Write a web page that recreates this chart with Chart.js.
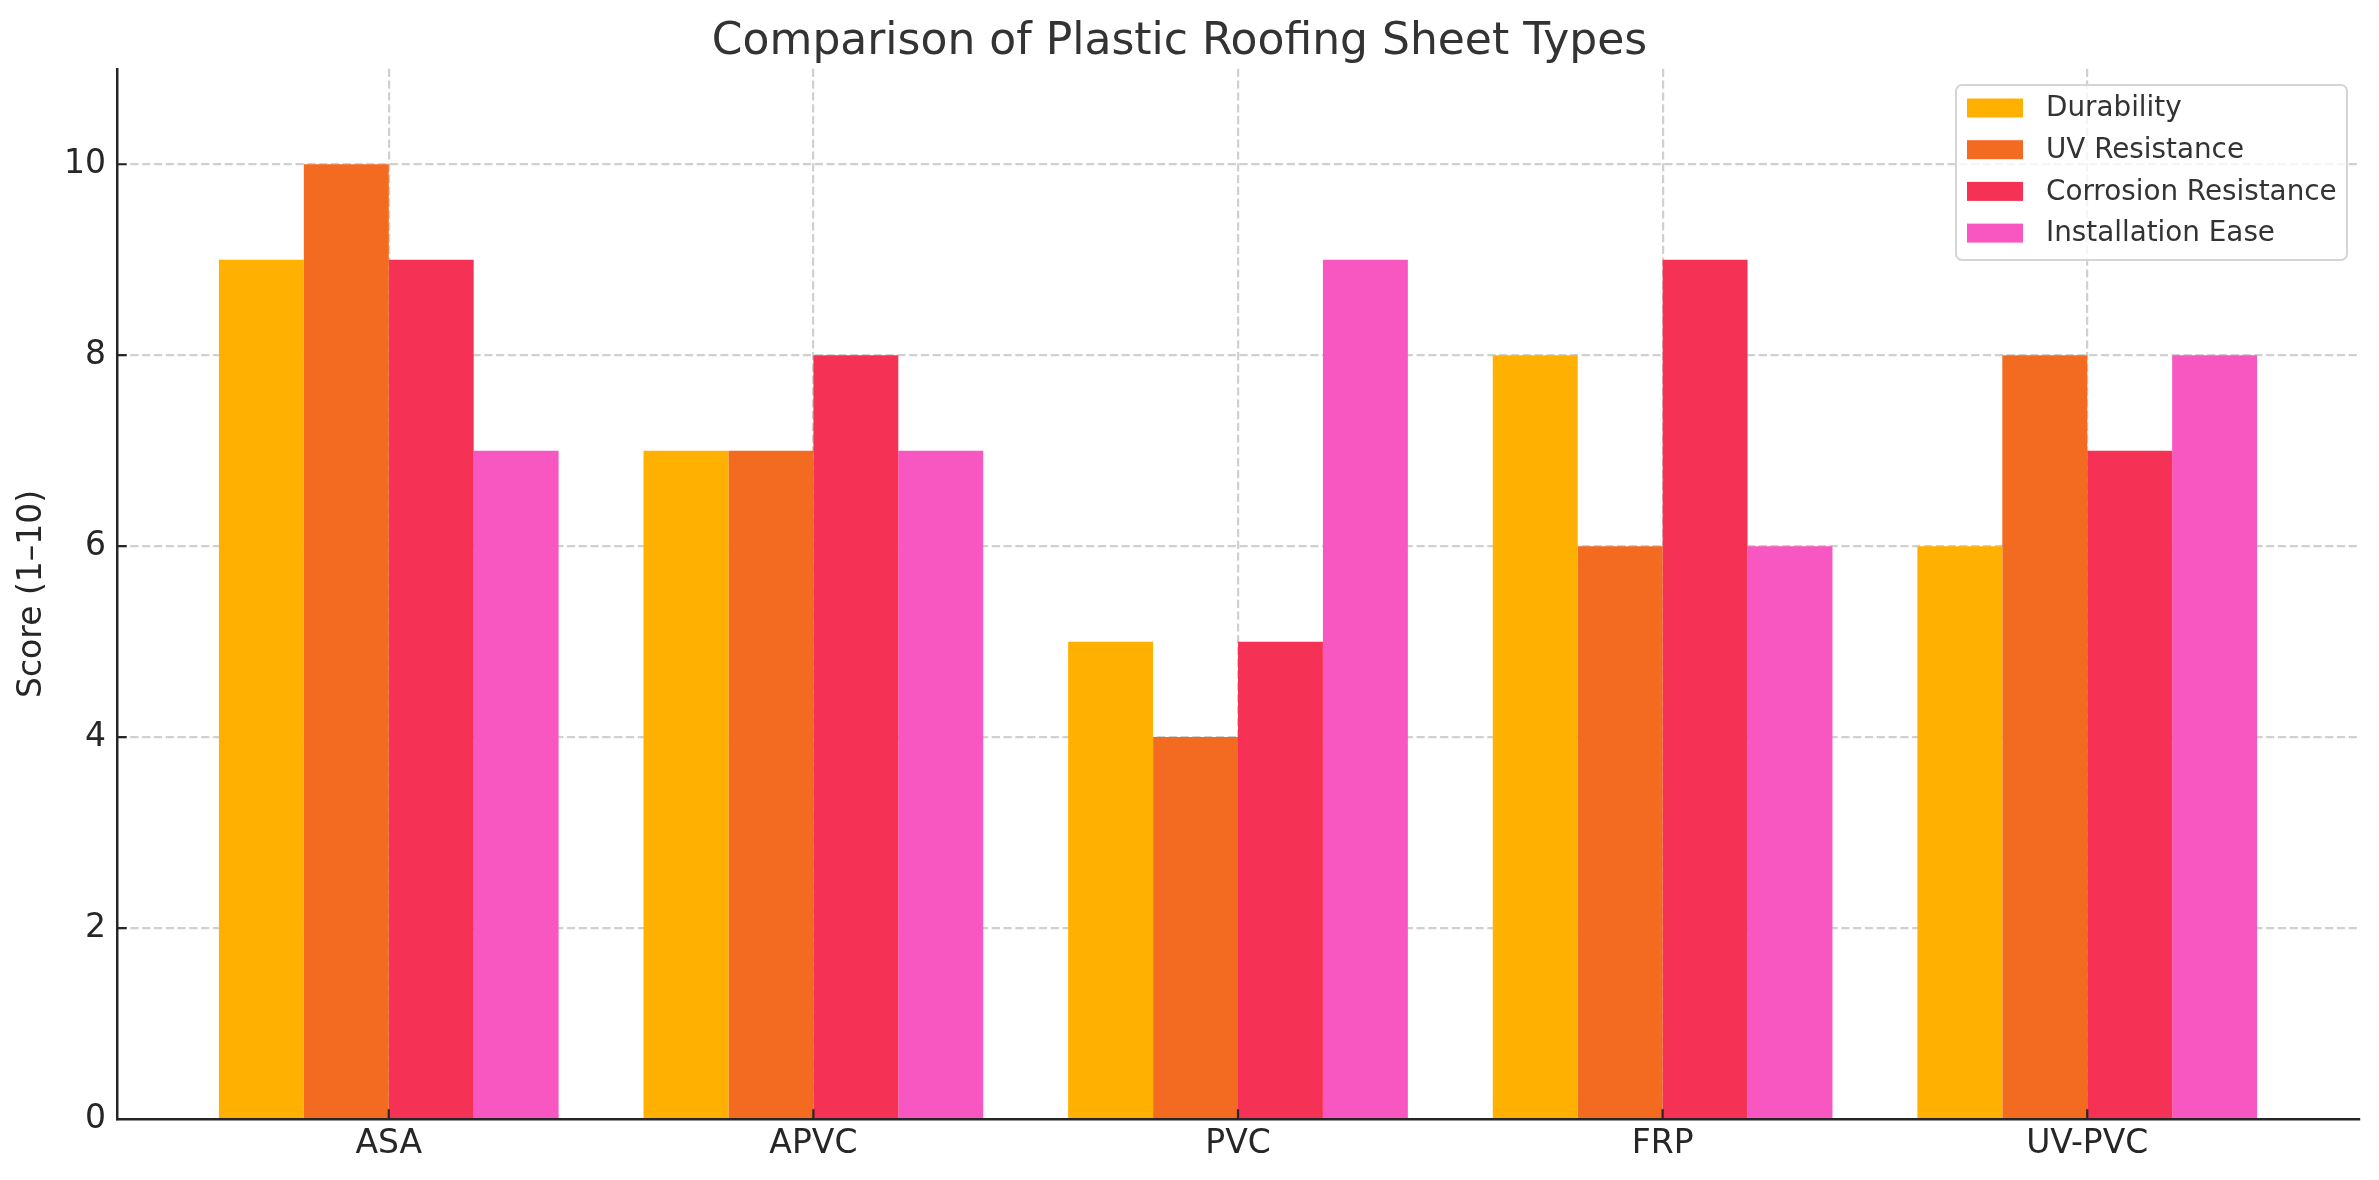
<!DOCTYPE html>
<html>
<head>
<meta charset="utf-8">
<script src="https://cdn.jsdelivr.net/npm/chart.js@4.4.1/dist/chart.umd.min.js"></script>
<style>
  html, body { margin: 0; padding: 0; background: #fff; }
  canvas { display: block; }
</style>
</head>
<body>
<canvas id="roofChart" width="2379" height="1180" style="width:2379px;height:1180px"></canvas>
<script>
// categories and scores
const categories = ['ASA', 'APVC', 'PVC', 'FRP', 'UV-PVC'];
const seriesNames = ['Durability', 'UV Resistance', 'Corrosion Resistance', 'Installation Ease'];
const durability = [9, 7, 5, 8, 6];
const uvResistance = [10, 7, 4, 6, 8];
const corrosionResistance = [9, 8, 5, 9, 7];
const installationEase = [7, 7, 9, 6, 8];
const yTicks = [0, 2, 4, 6, 8, 10];

const seriesValues = [durability, uvResistance, corrosionResistance, installationEase];
const seriesColors = ['#FFB000', '#F26B21', '#F53255', '#F857C1'];

const FONT = "'DejaVu Sans', sans-serif";
const TEXT = '#262626';
const GRID = 'rgba(170,170,170,0.55)';

// inward tick marks (like the original) and the legend box
const extrasPlugin = {
    id: 'extras',
    afterDraw(chart) {
        const ctx = chart.ctx;
        const area = chart.chartArea;
        const xs = chart.scales.x, ys = chart.scales.y;
        ctx.save();
        ctx.strokeStyle = TEXT;
        ctx.lineWidth = 2.2;
        ctx.beginPath();
        categories.forEach((c, i) => {
            const px = xs.getPixelForValue(i);
            ctx.moveTo(px, area.bottom);
            ctx.lineTo(px, area.bottom - 9.7);
        });
        yTicks.forEach(v => {
            const py = ys.getPixelForValue(v);
            ctx.moveTo(area.left, py);
            ctx.lineTo(area.left + 9.7, py);
        });
        ctx.stroke();

        // legend
        const bx = 1956, by = 85, bw = 391, bh = 175;
        ctx.beginPath();
        ctx.roundRect(bx, by, bw, bh, 6);
        ctx.fillStyle = 'rgba(255,255,255,0.8)';
        ctx.fill();
        ctx.strokeStyle = '#d5d5d5';
        ctx.lineWidth = 2;
        ctx.stroke();
        ctx.font = '27.8px ' + FONT;
        ctx.textBaseline = 'middle';
        ctx.textAlign = 'left';
        seriesNames.forEach((name, i) => {
            const cy = 108 + i * 41.7;
            ctx.fillStyle = seriesColors[i];
            ctx.fillRect(1967, cy - 9.5, 56, 19);
            ctx.fillStyle = '#333333';
            ctx.fillText(name, 2046, cy + 1);
        });
        ctx.restore();
    }
};

const datasets = seriesNames.map((name, s) => ({
    label: name,
    data: seriesValues[s].map((v, i) => ({ x: i, y: v })),
    backgroundColor: seriesColors[s],
    borderWidth: 0,
    categoryPercentage: 0.8,
    barPercentage: 1.0
}));

new Chart(document.getElementById('roofChart').getContext('2d'), {
    type: 'bar',
    data: { datasets: datasets },
    options: {
        responsive: false,
        animation: false,
        devicePixelRatio: 1,
        layout: { padding: { left: 0, right: 20, top: 0, bottom: 0 } },
        plugins: {
            legend: { display: false },
            tooltip: { enabled: false },
            title: {
                display: true,
                text: 'Comparison of Plastic Roofing Sheet Types',
                color: '#333333',
                font: { family: FONT, size: 44, weight: 'normal' },
                padding: { top: 16, bottom: 0 }
            }
        },
        scales: {
            x: {
                type: 'linear',
                offset: false,
                min: -0.64,
                max: 4.64,
                z: 1,
                afterBuildTicks: scale => { scale.ticks = categories.map((c, i) => ({ value: i })); },
                afterFit: scale => { scale.height = 61; },
                grid: { offset: false, color: GRID, lineWidth: 2.2, drawTicks: false },
                border: { display: true, color: TEXT, width: 2.5, dash: [8.2, 3.6] },
                ticks: {
                    color: TEXT,
                    padding: 6,
                    font: { family: FONT, size: 33 },
                    callback: v => categories[v]
                }
            },
            y: {
                min: 0,
                max: 11,
                z: 1,
                afterBuildTicks: scale => { scale.ticks = yTicks.map(v => ({ value: v })); },
                afterFit: scale => { scale.width = 117; },
                grid: {
                    color: ctx => ctx.tick && ctx.tick.value === 0 ? 'rgba(0,0,0,0)' : GRID,
                    lineWidth: 2.2,
                    drawTicks: false
                },
                border: { display: true, color: TEXT, width: 2.5, dash: [8.2, 3.6] },
                ticks: {
                    color: TEXT,
                    padding: 11,
                    font: { family: FONT, size: 33 }
                },
                title: {
                    display: true,
                    text: 'Score (1–10)',
                    color: TEXT,
                    font: { family: FONT, size: 33 },
                    padding: { top: 13, bottom: 0 }
                }
            }
        }
    },
    plugins: [extrasPlugin]
});
</script>
</body>
</html>
